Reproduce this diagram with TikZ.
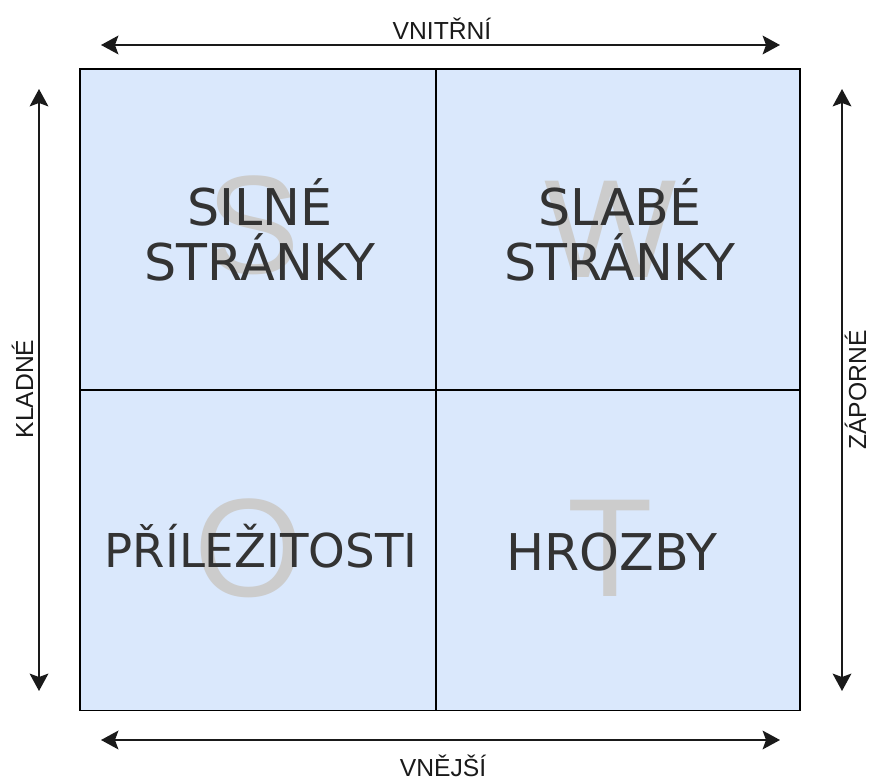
\documentclass[tikz,border=0pt]{standalone}
\usepackage{fontspec}
\setmainfont{DejaVu Sans}
\newfontfamily\labelfont{Liberation Sans}
\usepackage{tikz}
\usetikzlibrary{arrows.meta, positioning}
\usepackage{xcolor}
\definecolor{quadblue}{HTML}{DAE8FC}
\definecolor{textgray}{HTML}{333333}
\definecolor{markgray}{HTML}{CCCCCC}
\definecolor{linegray}{HTML}{1A1A1A}

\begin{document}
\begin{tikzpicture}[x=0.75pt, y=-0.75pt,
    quad/.style   = {fill=quadblue, minimum height=240.4pt, inner sep=0pt},
    grid/.style   = {draw=black, line width=1.3pt},
    bigltr/.style = {font=\labelfont\fontsize{105}{105}\selectfont,
                     text=markgray, inner sep=0pt},
    swot/.style   = {font=\fontsize{38}{41.25}\selectfont, text=textgray,
                     align=center, inner sep=0pt},
    side/.style   = {font=\labelfont\fontsize{18.5}{18.5}\selectfont,
                     text=linegray, inner sep=0pt},
    darr/.style   = {{Stealth[length=13pt, width=14pt, inset=2.5pt]}-{Stealth[length=13pt, width=14pt, inset=2.5pt]},
                     line width=1.6pt, color=linegray},
  ]
    \useasboundingbox (0,0) rectangle (873,780);

    %% ── Quadrants ───────────────────────────────────────────────────────────
    \node[quad, minimum width=267pt] (str) at (258, 229.5) {};
    \node[quad, minimum width=273pt] (wea) at (618, 229.5) {};
    \node[quad, minimum width=267pt] (opp) at (258, 550) {};
    \node[quad, minimum width=273pt] (thr) at (618, 550) {};
    \draw[grid] (str.north east) -- (opp.south east);
    \draw[grid] (str.south west) -- (wea.south east);
    \draw[grid, line width=1.4pt] (str.north west) rectangle (thr.south east);

    %% big letters behind the text
    \node[bigltr] (ms) at (253, 225) {S};
    \node[bigltr] (mw) at (611, 229) {W};
    \node[bigltr] (mo) at (249, 548) {O};
    \node[bigltr] (mt) at (610, 548) {T};

    %% quadrant texts
    \node[swot] (tstr) at (260, 230) {SILNÉ\\STRÁNKY};
    \node[swot] (twea) at (620, 230) {SLABÉ\\STRÁNKY};
    \node[swot, anchor=base, font=\fontsize{35}{40}\selectfont] (topp) at (261, 567) {PŘÍLEŽITOSTI};
    \node[swot, anchor=base] (tthr) at (612, 570) {HROZBY};

    %% ── Axes ────────────────────────────────────────────────────────────────
    \coordinate (topl) at (101, 45);
    \coordinate (topr) at (780, 45);
    \coordinate (botl) at (101, 740);
    \coordinate (botr) at (780, 740);
    \coordinate (lftt) at (39, 89);
    \coordinate (lftb) at (39, 691);
    \coordinate (rgtt) at (842, 89);
    \coordinate (rgtb) at (842, 691);

    \draw[darr] (topl) -- (topr);
    \draw[darr] (botl) -- (botr);
    \draw[darr] (lftt) -- (lftb);
    \draw[darr] (rgtt) -- (rgtb);

    %% ── Labels ──────────────────────────────────────────────────────────────
    \node[side, anchor=base] (inner) at (442, 40) {VNITŘNÍ};
    \node[side, anchor=base] (outer) at (443, 776) {VNĚJŠÍ};
    \node[side, rotate=90, anchor=base] (pos) at (33, 389) {KLADNÉ};
    \node[side, rotate=90, anchor=base] (neg) at (866, 390) {ZÁPORNÉ};

  \end{tikzpicture}
\end{document}
